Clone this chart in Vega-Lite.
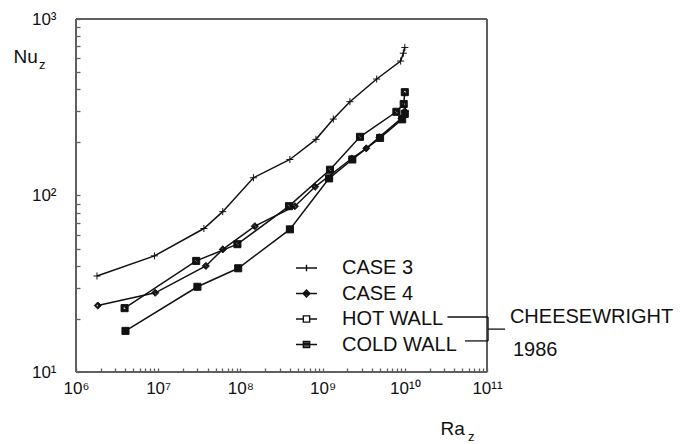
{
  "$schema": "https://vega.github.io/schema/vega-lite/v6.json",
  "width": 411,
  "height": 353,
  "autosize": {"type": "none"},
  "padding": {"left": 76, "top": 19, "right": 199, "bottom": 72},
  "background": "white",
  "config": {
    "font": "Liberation Sans",
    "view": {"stroke": null}
  },
  "datasets": {
    "series": [
      {"series": "CASE 3", "ra": 1.8e6, "nu": 35},
      {"series": "CASE 3", "ra": 9e6, "nu": 45.5},
      {"series": "CASE 3", "ra": 3.6e7, "nu": 65},
      {"series": "CASE 3", "ra": 6.1e7, "nu": 81},
      {"series": "CASE 3", "ra": 1.44e8, "nu": 126},
      {"series": "CASE 3", "ra": 4.0e8, "nu": 160},
      {"series": "CASE 3", "ra": 8.3e8, "nu": 208},
      {"series": "CASE 3", "ra": 1.35e9, "nu": 271},
      {"series": "CASE 3", "ra": 2.15e9, "nu": 340},
      {"series": "CASE 3", "ra": 4.55e9, "nu": 457},
      {"series": "CASE 3", "ra": 8.9e9, "nu": 578},
      {"series": "CASE 3", "ra": 9.6e9, "nu": 640},
      {"series": "CASE 3", "ra": 1.0e10, "nu": 690},
      {"series": "CASE 4", "ra": 1.84e6, "nu": 23.8},
      {"series": "CASE 4", "ra": 9.2e6, "nu": 28.1},
      {"series": "CASE 4", "ra": 3.8e7, "nu": 39.9},
      {"series": "CASE 4", "ra": 6.1e7, "nu": 49.5},
      {"series": "CASE 4", "ra": 1.5e8, "nu": 67},
      {"series": "CASE 4", "ra": 4.6e8, "nu": 87},
      {"series": "CASE 4", "ra": 8.1e8, "nu": 112},
      {"series": "CASE 4", "ra": 2.26e9, "nu": 162},
      {"series": "CASE 4", "ra": 3.4e9, "nu": 185},
      {"series": "CASE 4", "ra": 4.9e9, "nu": 214},
      {"series": "CASE 4", "ra": 9.1e9, "nu": 274},
      {"series": "CASE 4", "ra": 1.0e10, "nu": 300},
      {"series": "HOT WALL", "ra": 3.9e6, "nu": 23},
      {"series": "HOT WALL", "ra": 2.9e7, "nu": 42.6},
      {"series": "HOT WALL", "ra": 9.2e7, "nu": 53},
      {"series": "HOT WALL", "ra": 3.9e8, "nu": 87},
      {"series": "HOT WALL", "ra": 1.23e9, "nu": 140},
      {"series": "HOT WALL", "ra": 2.85e9, "nu": 215},
      {"series": "HOT WALL", "ra": 7.9e9, "nu": 298},
      {"series": "HOT WALL", "ra": 9.7e9, "nu": 330},
      {"series": "HOT WALL", "ra": 1.0e10, "nu": 385},
      {"series": "COLD WALL", "ra": 4e6, "nu": 17.1},
      {"series": "COLD WALL", "ra": 3e7, "nu": 30.4},
      {"series": "COLD WALL", "ra": 9.4e7, "nu": 38.7},
      {"series": "COLD WALL", "ra": 4e8, "nu": 64.3},
      {"series": "COLD WALL", "ra": 1.2e9, "nu": 125},
      {"series": "COLD WALL", "ra": 2.3e9, "nu": 160},
      {"series": "COLD WALL", "ra": 5e9, "nu": 212},
      {"series": "COLD WALL", "ra": 9.3e9, "nu": 270},
      {"series": "COLD WALL", "ra": 1.0e10, "nu": 290}
    ],
    "frame": [
      {"ra": 1e6, "ra2": 1e11, "nu": 1000, "nu2": 1000},
      {"ra": 1e6, "ra2": 1e11, "nu": 10, "nu2": 10},
      {"ra": 1e6, "ra2": 1e6, "nu": 10, "nu2": 1000},
      {"ra": 1e11, "ra2": 1e11, "nu": 10, "nu2": 1000}
    ],
    "bracket": [
      {"ra": 3.3e10, "ra2": 1.03e11, "nu": 20.5, "nu2": 20.5},
      {"ra": 5.4e10, "ra2": 1.03e11, "nu": 15.0, "nu2": 15.0},
      {"ra": 1.03e11, "ra2": 1.03e11, "nu": 15.0, "nu2": 20.5},
      {"ra": 1.03e11, "ra2": 1.66e11, "nu": 17.5, "nu2": 17.5}
    ],
    "notes": [
      {"label": "CHEESEWRIGHT", "ra": 1.9e11, "nu": 20.6, "size": "big"},
      {"label": "1986", "ra": 2.07e11, "nu": 13.3, "size": "big"},
      {"label": "z", "ra": 3.55e5, "nu": 521, "size": "sub"},
      {"label": "z", "ra": 5.88e10, "nu": 4.06, "size": "sub"}
    ]
  },
  "resolve": {"scale": {"shape": "independent"}, "legend": {"shape": "independent"}},
  "layer": [
    {
      "data": {"name": "series"},
      "mark": {"type": "line", "color": "#111111", "strokeWidth": 1.5},
      "encoding": {
        "x": {
          "field": "ra", "type": "quantitative",
          "scale": {"type": "log", "domain": [1e6, 1e11], "nice": false},
          "axis": {
            "title": "Ra",
            "titleFontSize": 19, "titleFontWeight": "normal", "titleColor": "#111111",
            "titleX": 364, "titleY": 66, "titleAlign": "left", "titleBaseline": "alphabetic",
            "titleAnchor": null,
            "values": [1e6,2e6,3e6,4e6,5e6,6e6,7e6,8e6,9e6,1e7,2e7,3e7,4e7,5e7,6e7,7e7,8e7,9e7,1e8,2e8,3e8,4e8,5e8,6e8,7e8,8e8,9e8,1e9,2e9,3e9,4e9,5e9,6e9,7e9,8e9,9e9,1e10,2e10,3e10,4e10,5e10,6e10,7e10,8e10,9e10,1e11],
            "labelExpr": "abs(log(datum.value)/LN10 - round(log(datum.value)/LN10)) < 0.001 ? ('10' + (round(log(datum.value)/LN10) >= 10 ? '¹' + ['⁰','¹','²','³','⁴','⁵','⁶','⁷','⁸','⁹'][round(log(datum.value)/LN10) - 10] : ['⁰','¹','²','³','⁴','⁵','⁶','⁷','⁸','⁹'][round(log(datum.value)/LN10)])) : ''",
            "labelFontSize": 17, "labelColor": "#111111", "labelOverlap": false, "labelFlush": false, "labelBound": false,
            "labelPadding": 8, "labelDx": -7,
            "offset": -4, "ticks": true, "tickSize": 4, "tickWidth": 1.3, "tickColor": "#606060",
            "grid": false, "domain": false
          }
        },
        "y": {
          "field": "nu", "type": "quantitative",
          "scale": {"type": "log", "domain": [10, 1000], "nice": false},
          "axis": {
            "title": "Nu",
            "titleFontSize": 19, "titleFontWeight": "normal", "titleAngle": 0, "titleColor": "#111111",
            "titleX": -67, "titleY": 43, "titleAlign": "left", "titleBaseline": "alphabetic",
            "titleAnchor": null,
            "values": [10,20,30,40,50,60,70,80,90,100,200,300,400,500,600,700,800,900,1000],
            "labelExpr": "abs(log(datum.value)/LN10 - round(log(datum.value)/LN10)) < 0.001 ? ('10' + ['⁰','¹','²','³','⁴','⁵','⁶','⁷','⁸','⁹'][round(log(datum.value)/LN10)]) : ''",
            "labelFontSize": 17, "labelColor": "#111111", "labelOverlap": false, "labelFlush": false, "labelBound": false,
            "labelPadding": 20,
            "offset": -4, "ticks": true, "tickSize": 4, "tickWidth": 1.3, "tickColor": "#606060",
            "grid": false, "domain": false
          }
        },
        "detail": {"field": "series"}
      }
    },
    {
      "data": {"name": "series"},
      "mark": {"type": "point", "filled": true, "color": "#111111", "stroke": "#111111", "strokeWidth": 1, "size": 50, "opacity": 1},
      "encoding": {
        "x": {"field": "ra", "type": "quantitative"},
        "y": {"field": "nu", "type": "quantitative"},
        "shape": {
          "field": "series", "type": "nominal",
          "scale": {
            "domain": ["CASE 3", "CASE 4", "HOT WALL", "COLD WALL"],
            "range": [
              "M-1,0H1M0,-1V1",
              "M0,-1L1,0L0,1L-1,0Z M0,-0.45L-0.45,0L0,0.45L0.45,0Z",
              "M-1,-1H1V1H-1Z M-0.4,-0.4V0.4H0.4V-0.4Z",
              "M-1,-1H1V1H-1Z"
            ]
          },
          "legend": null
        }
      }
    },
    {
      "data": {"name": "series"},
      "transform": [{"filter": "datum.nu < 0"}],
      "mark": {"type": "point", "filled": false, "color": "#111111", "strokeWidth": 1.4, "opacity": 1},
      "encoding": {
        "x": {"field": "ra", "type": "quantitative"},
        "y": {"field": "nu", "type": "quantitative"},
        "shape": {
          "field": "series", "type": "nominal",
          "scale": {
            "domain": ["CASE 3", "CASE 4", "HOT WALL", "COLD WALL"],
            "range": [
              "M-1,0H1M0,-0.3V0.3",
              "M-1,0H1M-0.33,0L0,-0.33L0.33,0L0,0.33Z M-0.2,-0.12H0.2M-0.2,0.12H0.2",
              "M-1,0H-0.3M0.3,0H1M-0.3,-0.3H0.3V0.3H-0.3Z",
              "M-1,0H1M-0.3,-0.3H0.3V0.3H-0.3Z M-0.3,-0.15H0.3M-0.3,0.15H0.3"
            ]
          },
          "legend": {
            "orient": "none", "legendX": 219, "legendY": 237.5, "title": null,
            "labelFontSize": 20, "labelColor": "#111111", "symbolSize": 441,
            "symbolStrokeWidth": 1.4, "symbolStrokeColor": "#111111",
            "symbolOpacity": 1,
            "labelOffset": 24, "rowPadding": 3.5, "padding": 0, "labelLimit": 300
          }
        }
      }
    },
    {
      "data": {"name": "frame"},
      "mark": {"type": "rule", "color": "#606060", "strokeWidth": 2},
      "encoding": {
        "x": {"field": "ra", "type": "quantitative"},
        "x2": {"field": "ra2"},
        "y": {"field": "nu", "type": "quantitative"},
        "y2": {"field": "nu2"}
      }
    },
    {
      "data": {"name": "bracket"},
      "mark": {"type": "rule", "color": "#111111", "strokeWidth": 1.3},
      "encoding": {
        "x": {"field": "ra", "type": "quantitative"},
        "x2": {"field": "ra2"},
        "y": {"field": "nu", "type": "quantitative"},
        "y2": {"field": "nu2"}
      }
    },
    {
      "data": {"name": "notes"},
      "transform": [{"filter": "datum.size == 'big'"}],
      "mark": {"type": "text", "align": "left", "baseline": "middle", "fontSize": 20, "color": "#111111"},
      "encoding": {
        "x": {"field": "ra", "type": "quantitative"},
        "y": {"field": "nu", "type": "quantitative"},
        "text": {"field": "label"}
      }
    },
    {
      "data": {"name": "notes"},
      "transform": [{"filter": "datum.size == 'sub'"}],
      "mark": {"type": "text", "align": "left", "baseline": "alphabetic", "fontSize": 13, "color": "#111111"},
      "encoding": {
        "x": {"field": "ra", "type": "quantitative"},
        "y": {"field": "nu", "type": "quantitative"},
        "text": {"field": "label"}
      }
    }
  ]
}
